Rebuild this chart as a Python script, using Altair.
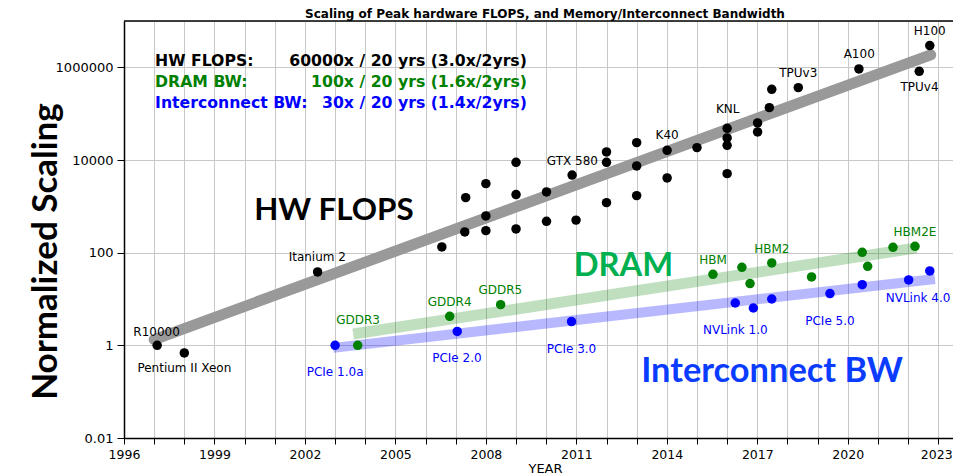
import altair as alt
import pandas as pd

# ---------------- data ----------------
flops_year = [1997.1, 1998.0, 2002.42, 2006.54, 2007.33, 2007.30, 2008.0, 2008.0, 2008.0,
              2009.0, 2009.0, 2009.0, 2010.01, 2010.01, 2010.86, 2010.99, 2012.0, 2012.0,
              2012.0, 2013.0, 2013.0, 2013.0, 2014.01, 2014.01, 2015.0, 2016.0, 2016.0,
              2016.0, 2016.0, 2017.01, 2017.01, 2017.4, 2017.48, 2018.36, 2020.37, 2022.37,
              2022.72]
flops_value = [1.0, 0.685, 38.4, 133, 1542, 280, 3090, 621, 299,
               8910, 1790, 325, 2046, 475, 4720, 504, 14930, 8910,
               1202, 23720, 7450, 1703, 16180, 4104, 18500, 48300, 30000,
               20740, 5080, 63100, 40370, 135000, 335600, 364900, 924700, 820000,
               2944000]

dram_year = [2003.75, 2006.8, 2008.49, 2015.53, 2016.49, 2016.76, 2017.48, 2018.8,
             2020.48, 2020.66, 2021.5, 2022.23]
dram_value = [1.0, 4.23, 7.56, 34.1, 48.3, 21.5, 60.1, 29.9, 101.7, 50.7, 130.4, 137]

ic_year = [2003.0, 2007.05, 2010.84, 2016.27, 2016.87, 2017.48, 2019.41, 2020.48,
           2022.02, 2022.72]
ic_value = [1.0, 2.0, 3.25, 8.2, 6.4, 10.0, 13.1, 20.4, 25.8, 40.4]

# trend bands (start / end)
flops_trend_year = [1997.0, 2022.75]
flops_trend_value = [1.33, 1.86e6]
dram_trend_year = [2003.6, 2022.28]
dram_trend_value = [1.76, 126.5]
ic_trend_year = [2002.94, 2022.89]
ic_trend_value = [0.88, 27.1]

# point labels
flops_labels = ["R10000", "Pentium II Xeon", "Itanium 2", "GTX 580", "K40", "KNL",
                "TPUv3", "A100", "H100", "TPUv4"]
flops_label_year = [1997.08, 1998.0, 2002.41, 2010.87, 2014.01, 2016.02, 2018.36,
                    2020.38, 2022.72, 2022.38]
flops_label_value = [1.93, 0.325, 79.3, 9354, 33960, 127300, 758000, 1.91e6, 6.11e6, 380000]

dram_labels = ["GDDR3", "GDDR4", "GDDR5", "HBM", "HBM2", "HBM2E"]
dram_label_year = [2003.76, 2006.8, 2008.48, 2015.53, 2017.48, 2022.23]
dram_label_value = [3.47, 8.65, 15.3, 69.7, 122, 275]

ic_labels = ["PCIe 1.0a", "PCIe 2.0", "PCIe 3.0", "NVLink 1.0", "PCIe 5.0", "NVLink 4.0"]
ic_label_year = [2003.0, 2007.04, 2010.84, 2016.27, 2019.41, 2022.33]
ic_label_value = [0.261, 0.535, 0.836, 2.1, 3.3, 10.55]

# big annotations
big_text = ["HW FLOPS", "DRAM", "Interconnect BW"]
big_year = [2002.96, 2012.56, 2017.49]
big_value = [808, 52.5, 0.271]

# summary block
summary_names = ["HW FLOPS:", "DRAM BW:", "Interconnect BW:"]
summary_rates = ["60000x / 20 yrs (3.0x/2yrs)", "100x / 20 yrs (1.6x/2yrs)",
                 "30x / 20 yrs (1.4x/2yrs)"]
summary_name_year = 1997.03
summary_rate_year = 2009.36
summary_value = [1.052e6, 370700, 133000]

series_names = ["HW FLOPS", "DRAM BW", "Interconnect BW"]
series_colors = ["#000000", "#008000", "#0000ff"]
big_colors = ["#000000", "#00b050", "#0a3cff"]
big_sizes = [31.3, 32.7, 34.4]

chart_title = "Scaling of Peak hardware FLOPS, and Memory/Interconnect Bandwidth"

# ---------------- tables ----------------
points = pd.DataFrame({
    "year": flops_year + dram_year + ic_year,
    "value": flops_value + dram_value + ic_value,
    "series": ["HW FLOPS"] * len(flops_year) + ["DRAM BW"] * len(dram_year)
              + ["Interconnect BW"] * len(ic_year),
})
labels = pd.DataFrame({
    "text": flops_labels + dram_labels + ic_labels,
    "year": flops_label_year + dram_label_year + ic_label_year,
    "value": flops_label_value + dram_label_value + ic_label_value,
    "series": ["HW FLOPS"] * len(flops_labels) + ["DRAM BW"] * len(dram_labels)
              + ["Interconnect BW"] * len(ic_labels),
})
summary_left = pd.DataFrame({"text": summary_names, "year": [summary_name_year] * 3,
                             "value": summary_value, "series": series_names})
summary_right = pd.DataFrame({"text": summary_rates, "year": [summary_rate_year] * 3,
                              "value": summary_value, "series": series_names})

# ---------------- layout ----------------
W, H = 829, 417
PAD = {"left": 116, "top": 13, "right": 0, "bottom": 40}

# ---------------- scales / axes ----------------
xscale = alt.Scale(domain=[1996, 2023.49], nice=False, zero=False)
yscale = alt.Scale(type="log", domain=[0.01, 1e7], nice=False)
color_scale = alt.Scale(domain=series_names, range=series_colors)

x_tick_values = [1996 + 0.25 * i for i in range(0, 110)]
is_year = "datum.value % 1 === 0"

xaxis = alt.Axis(
    values=x_tick_values, format="d",
    labelExpr="(datum.value - 1996) % 3 === 0 ? datum.label : ''",
    labelOverlap=False, labelFlush=False, labelFont="DejaVu Sans", labelFontSize=12.5,
    labelColor="black", labelPadding=4,
    labelOffset={"condition": {"test": "datum.value === 2023", "value": -2}, "value": 0},
    tickColor="black",
    tickSize={"condition": {"test": is_year, "value": 6}, "value": 3},
    grid=True, gridColor="#c8c8c8", gridWidth=1,
    gridOpacity={"condition": {"test": is_year, "value": 1}, "value": 0},
    domainColor="black", domainWidth=1.5,
    title="YEAR", titleFont="DejaVu Sans", titleFontSize=13, titleFontWeight="normal",
    titleColor="black", titleX=421, titleY=34, titleBaseline="alphabetic", titleAlign="center",
)
yaxis = alt.Axis(
    values=[0.01, 1, 100, 10000, 1000000], format="~f",
    labelFlush=False, labelFont="DejaVu Sans", labelFontSize=13, labelColor="black",
    labelPadding=4,
    tickColor="black", tickSize=7,
    grid=True, gridColor="#c8c8c8", gridWidth=1,
    domainColor="black", domainWidth=1.5,
    title="Normalized Scaling", titleFont="Lato", titleFontSize=35, titleFontWeight="bold",
    titleColor="black", titleAngle=270, titleX=-68, titleY=230, titleAlign="center",
    titleBaseline="alphabetic",
)


def X():
    return alt.X("year:Q", scale=xscale, axis=xaxis)


def Y():
    return alt.Y("value:Q", scale=yscale, axis=yaxis)


def band(years, values, color, opacity, cap, width):
    df = pd.DataFrame({"year": years, "value": values})
    return alt.Chart(df).mark_line(color=color, strokeWidth=width, opacity=opacity,
                                   strokeCap=cap).encode(x=X(), y=Y())


flops_band = band(flops_trend_year, flops_trend_value, "#999999", 1.0, "round", 11)
dram_band = band(dram_trend_year, dram_trend_value, "#008000", 0.25, "butt", 11)
ic_band = band(ic_trend_year, ic_trend_value, "#0000ff", 0.28, "butt", 10)

dots = alt.Chart(points).mark_circle(size=90, opacity=1).encode(
    x=X(), y=Y(), color=alt.Color("series:N", scale=color_scale, legend=None))

label_layer = alt.Chart(labels).mark_text(font="DejaVu Sans", fontSize=12, align="center",
                                          baseline="middle").encode(
    x=X(), y=Y(), text="text:N", color=alt.Color("series:N", scale=color_scale, legend=None))

big_layers = []
for t, yr, v, c, s in zip(big_text, big_year, big_value, big_colors, big_sizes):
    df = pd.DataFrame({"text": [t], "year": [yr], "value": [v]})
    big_layers.append(
        alt.Chart(df).mark_text(font="Lato", fontSize=s, fontWeight="bold", color=c,
                                align="center", baseline="middle").encode(
            x=X(), y=Y(), text="text:N"))

sum_left = alt.Chart(summary_left).mark_text(font="DejaVu Sans", fontSize=15.7, fontWeight="bold",
                                             align="left", baseline="alphabetic").encode(
    x=X(), y=Y(), text="text:N", color=alt.Color("series:N", scale=color_scale, legend=None))
sum_right = alt.Chart(summary_right).mark_text(font="DejaVu Sans", fontSize=15.7, fontWeight="bold",
                                               align="right", baseline="alphabetic").encode(
    x=X(), y=Y(), text="text:N", color=alt.Color("series:N", scale=color_scale, legend=None))

# frame top edge and chart title
top_frame = alt.Chart(pd.DataFrame({"k": [0]})).mark_rule(color="black", strokeWidth=1.5).encode(
    x=alt.value(0), x2=alt.value(W), y=alt.value(0))
title_mark = alt.Chart(pd.DataFrame({"text": [chart_title]})).mark_text(
    font="DejaVu Sans", fontSize=12, fontWeight="bold", color="black",
    align="center", baseline="alphabetic").encode(
    x=alt.value(421), y=alt.value(-3), text="text:N")

chart = alt.layer(
    flops_band, dram_band, ic_band, dots, label_layer, *big_layers, sum_left, sum_right,
    top_frame, title_mark
).properties(
    width=W, height=H,
    autosize=alt.AutoSizeParams(type="none"),
    padding=PAD,
).configure_view(stroke=None).configure(background="white")

chart.save("out.html", embed_options={"renderer": "svg", "actions": False})
